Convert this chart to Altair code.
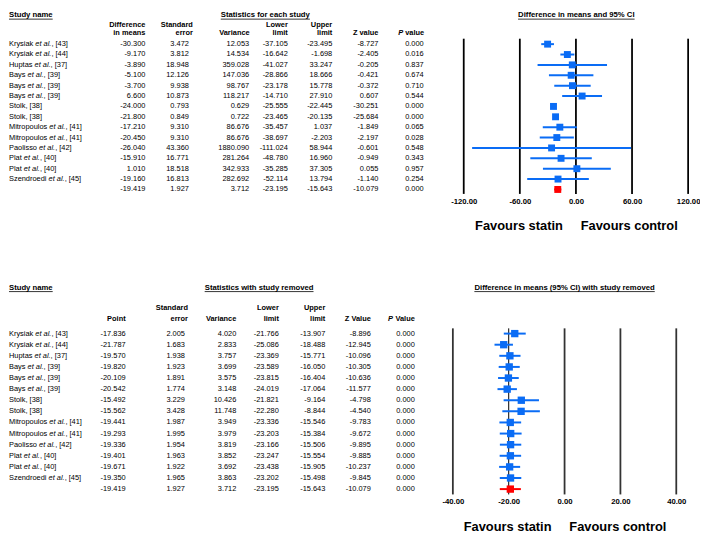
import altair as alt
import pandas as pd

# ---------------- data ----------------
name_main = ["Krysiak", "Krysiak", "Huptas", "Bays", "Bays", "Bays", "Stolk", "Stolk",
             "Mitropoulos", "Mitropoulos", "Paolisso", "Plat", "Plat", "Szendroedi", ""]
name_etal = [True, True, True, True, True, True, False, False,
             True, True, True, True, True, True, False]
name_ref = ["[43]", "[44]", "[37]", "[39]", "[39]", "[39]", "[38]", "[38]",
            "[41]", "[41]", "[42]", "[40]", "[40]", "[45]", ""]

# top: statistics for each study
top_diff = [-30.300, -9.170, -3.890, -5.100, -3.700, 6.600, -24.000, -21.800,
            -17.210, -20.450, -26.040, -15.910, 1.010, -19.160, -19.419]
top_se = [3.472, 3.812, 18.948, 12.126, 9.938, 10.873, 0.793, 0.849,
          9.310, 9.310, 43.360, 16.771, 18.518, 16.813, 1.927]
top_var = [12.053, 14.534, 359.028, 147.036, 98.767, 118.217, 0.629, 0.722,
           86.676, 86.676, 1880.090, 281.264, 342.933, 282.692, 3.712]
top_lower = [-37.105, -16.642, -41.027, -28.866, -23.178, -14.710, -25.555, -23.465,
             -35.457, -38.697, -111.024, -48.780, -35.285, -52.114, -23.195]
top_upper = [-23.495, -1.698, 33.247, 18.666, 15.778, 27.910, -22.445, -20.135,
             1.037, -2.203, 58.944, 16.960, 37.305, 13.794, -15.643]
top_z = [-8.727, -2.405, -0.205, -0.421, -0.372, 0.607, -30.251, -25.684,
         -1.849, -2.197, -0.601, -0.949, 0.055, -1.140, -10.079]
top_p = [0.000, 0.016, 0.837, 0.674, 0.710, 0.544, 0.000, 0.000,
         0.065, 0.028, 0.548, 0.343, 0.957, 0.254, 0.000]

# bottom: statistics with study removed
bot_point = [-17.836, -21.787, -19.570, -19.820, -20.109, -20.542, -15.492, -15.562,
             -19.441, -19.293, -19.336, -19.401, -19.671, -19.350, -19.419]
bot_se = [2.005, 1.683, 1.938, 1.923, 1.891, 1.774, 3.229, 3.428,
          1.987, 1.995, 1.954, 1.963, 1.922, 1.965, 1.927]
bot_var = [4.020, 2.833, 3.757, 3.699, 3.575, 3.148, 10.426, 11.748,
           3.949, 3.979, 3.819, 3.852, 3.692, 3.863, 3.712]
bot_lower = [-21.766, -25.086, -23.369, -23.589, -23.815, -24.019, -21.821, -22.280,
             -23.336, -23.203, -23.166, -23.247, -23.438, -23.202, -23.195]
bot_upper = [-13.907, -18.488, -15.771, -16.050, -16.404, -17.064, -9.164, -8.844,
             -15.546, -15.384, -15.506, -15.554, -15.905, -15.498, -15.643]
bot_z = [-8.896, -12.945, -10.096, -10.305, -10.636, -11.577, -4.798, -4.540,
         -9.783, -9.672, -9.895, -9.885, -10.237, -9.845, -10.079]
bot_p = [0.000] * 15

top_ticks = [-120, -60, 0, 60, 120]
bot_ticks = [-40, -20, 0, 20, 40]

# ---------------- styling ----------------
FONT = "Liberation Sans"
FS = 7.5       # body text
FSH = 7.5      # column headers
FST = 7.8      # section titles
BLUE = "#0a6cf5"
RED = "#ff0000"
NBSP = "\u00a0"
FAVOURS = "Favours statin" + NBSP * 5 + "Favours control"

REG = {c: 556 for c in "0123456789abdeghnopqu"}
REG.update({' ': 278, ',': 278, '.': 278, '[': 278, ']': 278, '(': 333, ')': 333, '-': 333, '%': 889,
            'c': 500, 'f': 278, 'i': 222, 'j': 222, 'k': 500, 'l': 222, 'm': 833, 'r': 333, 's': 500,
            't': 278, 'v': 500, 'w': 722, 'x': 500, 'y': 500, 'z': 500,
            'A': 667, 'B': 667, 'C': 722, 'D': 722, 'E': 667, 'F': 611, 'H': 722, 'K': 667, 'L': 556,
            'M': 833, 'P': 667, 'S': 667, 'V': 667, 'Z': 611, 'I': 278, 'U': 722})
BOLD = {c: 611 for c in "bdghnopqu"}
BOLD.update({c: 556 for c in "0123456789aceksvxy"})
BOLD.update({' ': 278, ',': 278, '.': 278, '[': 333, ']': 333, '(': 333, ')': 333, '-': 333, '%': 889,
             'f': 333, 'i': 278, 'j': 278, 'l': 278, 'm': 889, 'r': 389, 't': 333, 'w': 778, 'z': 500,
             'A': 722, 'B': 722, 'C': 722, 'D': 722, 'E': 667, 'F': 611, 'I': 278, 'L': 611, 'M': 833,
             'P': 667, 'S': 667, 'V': 667, 'Z': 611, 'U': 722})


def tw(s, table, size):
    return sum(table.get(ch, 556) for ch in s) / 1000.0 * size


def fmt3(v):
    return f"{v:.3f}"


def build_table(cols):
    rows = []
    for i in range(15):
        main = name_main[i]
        etal = name_etal[i]
        ref = name_ref[i]
        pre = main + (" " if etal else "")
        it = "et al." if etal else ""
        suf = (", " + ref) if ref else ""
        x_it = tw(pre, REG, FS)
        x_suf = x_it + tw(it, REG, FS)
        rec = {"row": i, "pre": pre, "it": it, "suf": suf,
               "x_pre": 0.0, "x_it": x_it, "x_suf": x_suf,
               "kind": "summary" if i == 14 else "study"}
        for k, arr in cols.items():
            rec[k] = fmt3(arr[i])
        rows.append(rec)
    return pd.DataFrame(rows)


one = pd.DataFrame({"a": [0]})


def text_layer(txt, x, y, align="left", weight="bold", style="normal", size=FSH):
    return alt.Chart(one).mark_text(
        text=txt, align=align, baseline="middle", font=FONT, fontSize=size,
        fontWeight=weight, fontStyle=style, color="black"
    ).encode(x=alt.value(x), y=alt.value(y))


def title_layers(txt, x, y, align, uline_y):
    w = tw(txt, BOLD, FST)
    if align == "left":
        x1 = x
    else:
        x1 = x - w / 2
    t = text_layer(txt, x, y, align=align, size=FST)
    u = alt.Chart(one).mark_rule(color="black", strokeWidth=0.8).encode(
        x=alt.value(x1), x2=alt.value(x1 + w), y=alt.value(uline_y))
    return [t, u]


def section(df, value_cols, rights, headers, titles, y0, y14, line_top, height,
            xdomain, xrange, ticks, thin_ticks, line_color, line_w, est, lo, hi,
            lab_pad, title_pad, sq_size):
    ys = alt.Scale(domain=[0, 14], range=[y0, y14], nice=False, zero=False)
    Y = alt.Y("row:Q", scale=ys, axis=None)
    base = alt.Chart(df)
    common = dict(baseline="middle", font=FONT, fontSize=FS, color="black")
    layers = []
    # study names (with italic "et al.")
    layers.append(base.mark_text(align="left", **common).encode(
        x=alt.X("x_pre:Q", scale=None, axis=None), y=Y, text="pre:N"))
    layers.append(base.mark_text(align="left", fontStyle="italic", **common).encode(
        x=alt.X("x_it:Q", scale=None, axis=None), y=Y, text="it:N"))
    layers.append(base.mark_text(align="left", **common).encode(
        x=alt.X("x_suf:Q", scale=None, axis=None), y=Y, text="suf:N"))
    # numeric columns
    for col, xr in zip(value_cols, rights):
        layers.append(base.mark_text(align="right", **common).encode(
            x=alt.value(xr), y=Y, text=f"{col}:N"))
    # headers
    for h in headers:
        layers.append(text_layer(*h))
    for t in titles:
        layers.extend(title_layers(*t))
    # forest plot
    xs = alt.Scale(domain=xdomain, range=xrange, nice=False, zero=False)
    ax = alt.Axis(values=ticks, labelExpr="replace(format(datum.value, '.2f'), '\u2212', '-')",
                  domain=False, ticks=False, grid=False, labelFont=FONT, labelFontSize=7.8,
                  labelFontWeight="bold", labelColor="black", labelPadding=lab_pad,
                  labelFlush=False, labelOverlap=False,
                  title=FAVOURS, titleFont=FONT, titleFontSize=13, titleFontWeight="bold",
                  titleColor="black", titlePadding=title_pad)
    thick = [t for t in ticks if t not in thin_ticks]
    layers.append(alt.Chart(pd.DataFrame({"t": thick})).mark_rule(
        color=line_color, strokeWidth=line_w).encode(
        x=alt.X("t:Q", scale=xs, axis=ax), y=alt.value(line_top), y2=alt.value(height)))
    if thin_ticks:
        layers.append(alt.Chart(pd.DataFrame({"t": thin_ticks})).mark_rule(
            color="black", strokeWidth=1).encode(
            x=alt.X("t:Q", scale=xs, axis=ax), y=alt.value(line_top), y2=alt.value(height)))
    cscale = alt.Scale(domain=["study", "summary"], range=[BLUE, RED])
    fdf = pd.DataFrame({"row": list(range(15)), "est": est, "lo": lo, "hi": hi,
                        "kind": ["study"] * 14 + ["summary"]})
    fb = alt.Chart(fdf)
    layers.append(fb.mark_rule(strokeWidth=2).encode(
        x=alt.X("lo:Q", scale=xs, axis=ax), x2="hi:Q", y=Y,
        color=alt.Color("kind:N", scale=cscale, legend=None)))
    layers.append(fb.mark_square(size=sq_size, opacity=1).encode(
        x=alt.X("est:Q", scale=xs, axis=ax), y=Y,
        color=alt.Color("kind:N", scale=cscale, legend=None)))
    return alt.layer(*layers).properties(width=692, height=height)


# ---------------- top section ----------------
dfA = build_table({"c1": top_diff, "c2": top_se, "c3": top_var, "c4": top_lower,
                   "c5": top_upper, "c6": top_z, "c7": top_p})
L1A, L2A = 12.8, 21.3
pA = 420 - tw(" value", BOLD, FSH)
headersA = [
    ("Difference", 138, L1A, "right"), ("in means", 138, L2A, "right"),
    ("Standard", 186, L1A, "right"), ("error", 186, L2A, "right"),
    ("Variance", 243.5, L2A, "right"),
    ("Lower", 282, L1A, "right"), ("limit", 282, L2A, "right"),
    ("Upper", 327, L1A, "right"), ("limit", 327, L2A, "right"),
    ("Z value", 373.7, L2A, "right"),
    ("P", pA, L2A, "right", "bold", "italic"), (" value", 420, L2A, "right"),
]
titlesA = [("Study name", 0, 3.0, "left", 7.2),
           ("Statistics for each study", 259.3, 3.0, "center", 7.2),
           ("Difference in means and 95% CI", 573.9, 3.0, "center", 7.2)]
chartA = section(dfA, ["c1", "c2", "c3", "c4", "c5", "c6", "c7"],
                 [138, 182, 243, 282, 327, 373.7, 419.5], headersA, titlesA,
                 32.5, 179.5, 27, 184, [-120, 120], [460, 687], top_ticks, [],
                 "black", 1.8, top_diff, top_lower, top_upper, 4, 14, 49)

# ---------------- bottom section ----------------
dfB = build_table({"c1": bot_point, "c2": bot_se, "c3": bot_var, "c4": bot_lower,
                   "c5": bot_upper, "c6": bot_z, "c7": bot_p})
L1B, L2B = 24.3, 35.3
pB = 410.5 - tw(" Value", BOLD, FSH)
headersB = [
    ("Point", 118, L2B, "right"),
    ("Standard", 181, L1B, "right"), ("error", 181, L2B, "right"),
    ("Variance", 230, L2B, "right"),
    ("Lower", 273, L1B, "right"), ("limit", 273, L2B, "right"),
    ("Upper", 320, L1B, "right"), ("limit", 320, L2B, "right"),
    ("Z Value", 366, L2B, "right"),
    ("P", pB, L2B, "right", "bold", "italic"), (" Value", 410.5, L2B, "right"),
]
titlesB = [("Study name", 0, 4, "left", 7.8),
           ("Statistics with study removed", 253, 4, "center", 7.8),
           ("Difference in means (95% CI) with study removed", 562, 4, "center", 7.8)]
chartB = section(dfB, ["c1", "c2", "c3", "c4", "c5", "c6", "c7"],
                 [118, 178, 230, 273, 320, 366, 410.5], headersB, titlesB,
                 50.3, 207.6, 45, 213, [-40, 40], [449, 675], bot_ticks, [-20],
                 "#333333", 1.8, bot_point, bot_lower, bot_upper, 3, 16, 55)

chart = alt.vconcat(chartA, chartB, spacing=52).properties(padding=0).configure_view(stroke=None)
chart.save("out.html", embed_options={"renderer": "svg", "actions": False})
